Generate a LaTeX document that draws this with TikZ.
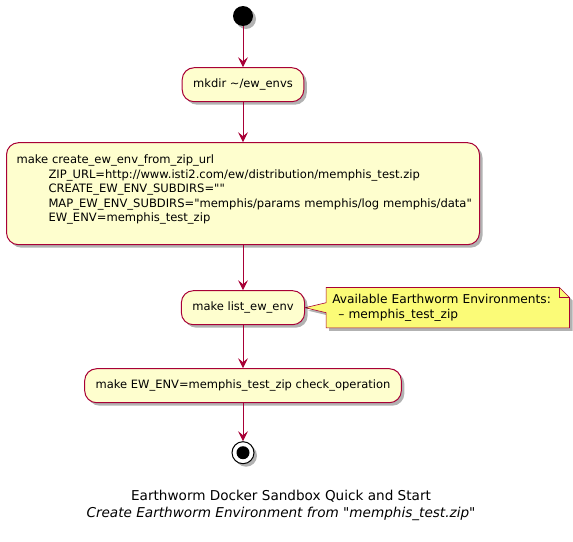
\documentclass[tikz,border=0pt]{standalone}
\usepackage{fontspec}
\setmainfont{DejaVu Sans}[Ligatures=TeXOff]
\usetikzlibrary{positioning,arrows.meta,shadows,backgrounds}
\definecolor{umlred}{HTML}{A80036}
\definecolor{umlfill}{HTML}{FEFECE}
\definecolor{umlnote}{HTML}{FBFB77}
\tikzset{
    shade box/.style = {
        drop shadow = {shadow xshift=3pt, shadow yshift=-3pt, opacity=0.3, fill=black},
        },
    action/.style = {
        draw = umlred,
        fill = umlfill,
        line width = 1pt,
        rounded corners = 12pt,
        minimum height = 34pt,
        inner xsep = 11pt,
        font = \fontsize{11.5}{14.5}\selectfont,
        shade box,
        },
    flow/.style = {
        draw = umlred,
        line width = 0.8pt,
        -{Stealth[length=10pt, width=10pt, inset=4pt]},
        },
}
\newcommand{\tabin}[1]{\hspace*{32pt}\mbox{#1}}
\begin{document}
\begin{tikzpicture}[x=1pt, y=-1pt]
    \useasboundingbox (0,0) rectangle (573,541);
    \node [circle, fill=black, minimum size=20pt, inner sep=0pt, shade box] (start) at (243,16) {};
    \node [action, below=41pt of start] (mkdir) {mkdir \textasciitilde/ew\_envs};
    \node [action, below=40pt of mkdir, text width=453pt, inner xsep=10pt, minimum height=102pt, align=left,
           font=\fontsize{11.55}{14.5}\selectfont] (create) {%
        \mbox{make create\_ew\_env\_from\_zip\_url}\\
        \tabin{ZIP\_URL=http://www.isti2.com/ew/distribution/memphis\_test.zip}\\
        \tabin{CREATE\_EW\_ENV\_SUBDIRS=""}\\
        \tabin{MAP\_EW\_ENV\_SUBDIRS="memphis/params memphis/log memphis/data"}\\
        \tabin{EW\_ENV=memphis\_test\_zip}\\[-4pt]
        \mbox{}};
    \node [action, below=45pt of create] (list) {make list\_ew\_env};
    \node [action, below=43pt of list] (check) {make EW\_ENV=memphis\_test\_zip check\_operation};
    \node [circle, draw=black, fill=white, line width=1pt, minimum size=22pt, inner sep=0pt, shade box, below=38pt of check] (stop) {};
    \fill (stop) circle (6.5pt);

    % note beside list_ew_env
    \node [right=21pt of list, text width=231pt, align=left, minimum height=40pt, inner xsep=6pt, inner ysep=5pt,
           font=\fontsize{12.2}{14.5}\selectfont] (note) {Available Earthworm Environments:\\\hspace*{6pt}– memphis\_test\_zip};
    \begin{scope}[on background layer]
    \draw [draw=umlred, fill=umlnote, line width=0.6pt, shade box]
        (note.north west) -- ([xshift=-10pt]note.north east) -- ([yshift=-10pt]note.north east)
        -- (note.south east) -- (note.south west) -- ([yshift=-5pt]note.west) -- (list.east)
        -- ([yshift=5pt]note.west) -- cycle;
    \draw [draw=umlred, line width=0.6pt]
        ([xshift=-10pt]note.north east) |- ([yshift=-10pt]note.north east);
    \end{scope}

    \draw [flow] (start) -- (mkdir);
    \draw [flow] (mkdir) -- (create);
    \draw [flow] (create) -- (list);
    \draw [flow] (list) -- (check);
    \draw [flow] (check) -- (stop);

    \node [font=\fontsize{13.6}{17}\selectfont, align=center] (title) at (281,505)
        {Earthworm Docker Sandbox Quick and Start\\\textit{Create Earthworm Environment from "memphis\_test.zip"}};
\end{tikzpicture}
\end{document}
